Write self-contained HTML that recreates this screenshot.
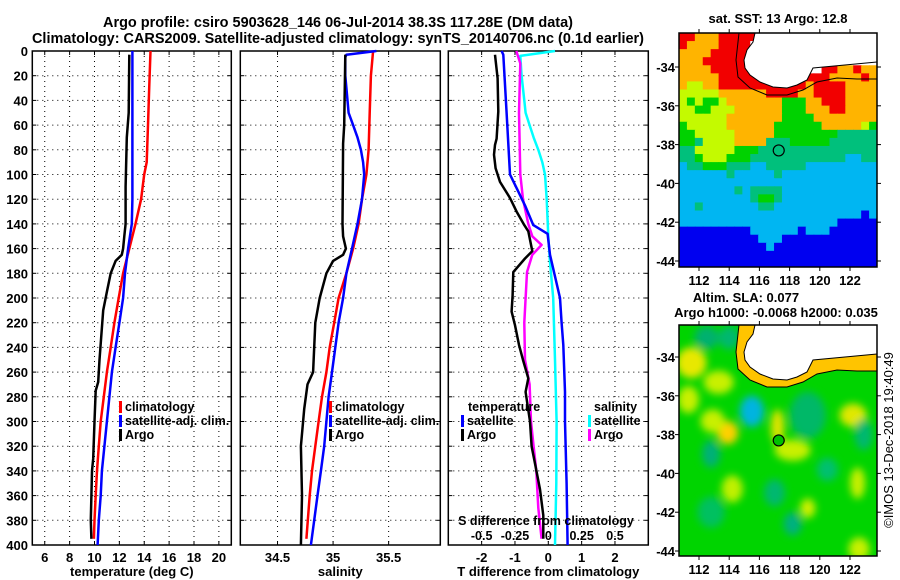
<!DOCTYPE html>
<html><head><meta charset="utf-8"><style>
html,body{margin:0;padding:0;background:#fff;}
svg{display:block;font-family:"Liberation Sans",sans-serif;font-weight:bold;}
</style></head><body>
<svg id="fig" width="900" height="580" viewBox="0 0 900 580" xmlns="http://www.w3.org/2000/svg">
<defs>
<filter id="blur" x="-20%" y="-20%" width="140%" height="140%"><feGaussianBlur stdDeviation="4"/></filter>
<clipPath id="clipTop"><rect x="679" y="33" width="198" height="234"/></clipPath>
<clipPath id="clipBot"><rect x="679" y="325" width="198" height="231"/></clipPath>
</defs>
<text x="338" y="27" text-anchor="middle" font-size="14.5" textLength="470" lengthAdjust="spacingAndGlyphs">Argo profile: csiro 5903628_146 06-Jul-2014 38.3S 117.28E (DM data)</text>
<text x="338" y="43" text-anchor="middle" font-size="14.5" textLength="612" lengthAdjust="spacingAndGlyphs">Climatology: CARS2009. Satellite-adjusted climatology: synTS_20140706.nc (0.1d earlier)</text>
<g id="plots"></g>
<g id="maps"></g>
<text transform="translate(893,440) rotate(-90)" text-anchor="middle" font-size="13" font-weight="normal">©IMOS 13-Dec-2018 19:40:49</text>
</svg>
<script>
// ---------- data ----------
const depthTicks = [0,20,40,60,80,100,120,140,160,180,200,220,240,260,280,300,320,340,360,380,400];
const tempTicks = [6,8,10,12,14,16,18,20];
const salTicks = [34.5,35,35.5];
const salTickLabels = ["34.5","35","35.5"];
const diffTicks = [-2,-1,0,1,2];
const sDiffTicks = [-0.5,-0.25,0,0.25,0.5];
const sDiffTickLabels = ["-0.5","-0.25","0","0.25","0.5"];

const argoTDepth = [3,50,70,110,140,150,160,165,170,180,195,210,250,268,275,300,330,340,380,395];
const argoT      = [12.8,12.75,12.6,12.5,12.5,12.4,12.3,12.2,11.7,11.3,11.0,10.7,10.4,10.3,10.1,10.0,9.9,9.8,9.7,9.75];
const climDepth  = [0,30,60,90,100,120,140,160,180,200,220,240,260,280,300,320,340,360,380,395];
const climT      = [14.5,14.4,14.3,14.2,14.0,13.75,13.3,12.8,12.3,11.95,11.6,11.3,11.0,10.75,10.5,10.35,10.2,10.1,10.0,9.95];
const satDepth   = [0,20,40,60,80,100,120,140,160,180,200,220,240,260,280,300,320,340,360,380,400];
const satT       = [13.05,13.05,13.05,13.05,13.05,13.05,13.05,13.0,12.7,12.45,12.3,12.0,11.7,11.4,11.2,11.0,10.8,10.6,10.5,10.35,10.25];

const argoSDepth = [3,60,75,140,150,160,165,170,180,200,220,260,270,290,320,360,400];
const argoS      = [35.11,35.10,35.09,35.085,35.09,35.115,35.09,35.0,34.94,34.88,34.84,34.82,34.77,34.74,34.71,34.72,34.71];
const climS      = [35.36,35.35,35.34,35.33,35.32,35.3,35.26,35.23,35.18,35.12,35.05,35.01,34.97,34.94,34.9,34.87,34.84,34.81,34.79,34.76];
const climSDepth = [0,10,20,50,80,100,120,140,160,180,200,220,240,260,280,300,320,340,360,395];
const satSDepth  = [0,3,5,20,40,50,60,70,80,90,100,120,140,160,180,200,220,240,260,280,300,320,340,360,380,400];
const satS       = [35.39,35.12,35.11,35.11,35.13,35.14,35.18,35.22,35.25,35.27,35.28,35.26,35.22,35.17,35.12,35.09,35.05,35.02,34.99,34.96,34.94,34.92,34.89,34.86,34.83,34.8];

const dTArgoDepth = [3,22,49,71,76,84,95,106,119,130,141,146,162,168,179,198,211,222,238,251,265,276,300,320,334,355,376,395];
const dTArgo      = [-1.6,-1.52,-1.5,-1.55,-1.6,-1.63,-1.58,-1.45,-1.15,-0.95,-0.72,-0.6,-0.48,-0.7,-1.05,-1.07,-1.1,-1.0,-0.88,-0.75,-0.6,-0.68,-0.55,-0.5,-0.4,-0.25,-0.15,-0.15];
const dTSatDepth  = [0,3,50,100,111,125,141,148,165,200,220,238,276,300,350,400];
const dTSat       = [-1.4,-1.35,-1.25,-1.15,-0.95,-0.7,-0.45,-0.02,0.05,0.35,0.4,0.45,0.5,0.5,0.55,0.58];
const dSArgoDepth = [0,10,50,100,120,140,150,157,165,179,220,250,270,300,320,340,370,395];
const dSArgo      = [-0.24,-0.21,-0.22,-0.21,-0.19,-0.15,-0.12,-0.05,-0.12,-0.16,-0.18,-0.175,-0.14,-0.13,-0.11,-0.09,-0.075,-0.05];
const dSSatDepth  = [0,4,20,40,50,60,70,80,90,100,120,150,170,200,250,300,350,400];
const dSSat       = [0.05,-0.21,-0.2,-0.18,-0.17,-0.14,-0.11,-0.075,-0.045,-0.025,-0.012,0.0,0.012,0.037,0.05,0.062,0.06,0.05];

const lonTicks = [112,114,116,118,120,122];
const latTicks = [-34,-36,-38,-40,-42,-44];
const argoLon = 117.28, argoLat = -38.3;

// ---------- helpers ----------
const NS = "http://www.w3.org/2000/svg";
function mk(tag, attrs, parent){ const e=document.createElementNS(NS,tag); for(const k in attrs) e.setAttribute(k,attrs[k]); parent.appendChild(e); return e; }
const plots = document.getElementById('plots');
const Y0 = 51, Y1 = 545;
function yScale(d){ return Y0 + d*(Y1-Y0)/400; }
function makeX(x0,x1,v0,v1){ return v => x0 + (v-v0)*(x1-x0)/(v1-v0); }

function panel(name, x0, x1, xs, ticks, tickLabels, title, showY){
  const g = mk('g',{},plots);
  
  
  ticks.forEach(t=>{ const x=xs(t); mk('line',{x1:x,x2:x,y1:Y0,y2:Y1,stroke:'#000','stroke-width':1,'stroke-dasharray':'1 4'},g); });
  depthTicks.forEach(d=>{ if(d===0||d===400) return; const y=yScale(d); mk('line',{x1:x0,x2:x1,y1:y,y2:y,stroke:'#000','stroke-width':1,'stroke-dasharray':'1 4'},g);
    mk('line',{x1:x0,x2:x0+4,y1:y,y2:y,stroke:'#000'},g); mk('line',{x1:x1-4,x2:x1,y1:y,y2:y,stroke:'#000'},g); });
  ticks.forEach(t=>{ const x=xs(t); mk('line',{x1:x,x2:x,y1:Y1-4,y2:Y1,stroke:'#000'},g); mk('line',{x1:x,x2:x,y1:Y0,y2:Y0+4,stroke:'#000'},g); });
  mk('rect',{x:x0,y:Y0,width:x1-x0,height:Y1-Y0,fill:'none',stroke:'#000','stroke-width':1.5},g);
  ticks.forEach((t,i)=>{ const tx=mk('text',{x:xs(t),y:562,'text-anchor':'middle','font-size':13},g); tx.textContent=tickLabels?tickLabels[i]:String(t);
      });
  const tt = mk('text',{x:(x0+x1)/2,y:576,'text-anchor':'middle','font-size':13},g); tt.textContent=title;
   
  if(showY){ depthTicks.forEach(d=>{ const tx=mk('text',{x:28,y:yScale(d)+5,'text-anchor':'end','font-size':13},g); tx.textContent=String(d);
      }); }
  return g;
}
function line(g, xs, vals, depths, color, name, w){
  const pts = vals.map((v,i)=>xs(v).toFixed(1)+','+yScale(depths[i]).toFixed(1)).join(' ');
  const p = mk('polyline',{points:pts,fill:'none',stroke:color,'stroke-width':w||2.5,'stroke-linejoin':'round'},g);
  
  
}
function legend(g, x, y, color, label, name){
  mk('rect',{x:x,y:y-10,width:3,height:12,fill:color},g);
  const t = mk('text',{x:x+6,y:y,'font-size':12.5},g); t.textContent = label;
  
  
}

// panel 1 temperature
const xT = makeX(32.3,231.3,5,21);
const g1 = panel('temperature-panel',32.3,231.3,xT,tempTicks,null,'temperature (deg C)',true);
line(g1,xT,climT,climDepth,'#ff0000','clim-temperature-line');
line(g1,xT,satT,satDepth,'#0000ff','satellite-temperature-line');
line(g1,xT,argoT,argoTDepth,'#000000','argo-temperature-line');
legend(g1,119,411,'#ff0000','climatology','legend-climatology');
legend(g1,119,425,'#0000ff','satellite-adj. clim.','legend-satellite-adj');
legend(g1,119,439,'#000000','Argo','legend-argo');

// panel 2 salinity
const xS = makeX(240.3,440.3,34.165,35.965);
const g2 = panel('salinity-panel',240.3,440.3,xS,salTicks,salTickLabels,'salinity',false);
line(g2,xS,climS,climSDepth,'#ff0000','clim-salinity-line');
line(g2,xS,satS,satSDepth,'#0000ff','satellite-salinity-line');
line(g2,xS,argoS,argoSDepth,'#000000','argo-salinity-line');
legend(g2,329,411,'#ff0000','climatology','legend-climatology');
legend(g2,329,425,'#0000ff','satellite-adj. clim.','legend-satellite-adj');
legend(g2,329,439,'#000000','Argo','legend-argo');

// panel 3 differences
const xD = makeX(448.3,648.3,-3,3);
const xSD = makeX(448.3,648.3,-0.75,0.75);
const g3 = panel('difference-panel',448.3,648.3,xD,diffTicks,null,'T difference from climatology',false);
line(g3,xSD,dSSat,dSSatDepth,'#00ffff','satellite-salinity-diff-line');
line(g3,xSD,dSArgo,dSArgoDepth,'#ff00ff','argo-salinity-diff-line');
line(g3,xD,dTSat,dTSatDepth,'#0000ff','satellite-temperature-diff-line');
line(g3,xD,dTArgo,dTArgoDepth,'#000000','argo-temperature-diff-line');
{ const t=mk('text',{x:468,y:411,'font-size':12.5},g3); t.textContent='temperature';
    }
legend(g3,461,425,'#0000ff','satellite','legend-temp-satellite');
legend(g3,461,439,'#000000','Argo','legend-temp-argo');
{ const t=mk('text',{x:594,y:411,'font-size':12.5},g3); t.textContent='salinity';
    }
legend(g3,588,425,'#00ffff','satellite','legend-sal-satellite');
legend(g3,588,439,'#ff00ff','Argo','legend-sal-argo');
{ const t=mk('text',{x:546,y:525,'text-anchor':'middle','font-size':12.5},g3); t.textContent='S difference from climatology';
    }
sDiffTicks.forEach((s,i)=>{ const t=mk('text',{x:xSD(s),y:540,'text-anchor':'middle','font-size':12.5},g3); t.textContent=sDiffTickLabels[i];
    });

// ---------- maps ----------
const maps = document.getElementById('maps');
const MX0=679, MX1=877;
const lonX = makeX(699,850,112,122);
const sstCols = {R:'#f20000',O:'#ffb400',Y:'#c4fa00',G:'#00d200',T:'#00c07c',C:'#00b6f2',B:'#0000f0',W:'#ffffff'};
const sstGrid = [
"RROOORRRRRWWWWWWWWWWWWWWW",
"ROOOORRRRWWWWWWWWWWWWWWWW",
"OOOORRRRRWWWWWWWWWWWWWWWW",
"OOORRRRRRWWWWWWWWWWWWWWWW",
"OOOORRRRRRWWWWWWWWRROOROO",
"OOOOORRRRRRWWWWWRRROOOORO",
"OYYOORRRRRRRRRRRORRRROOOO",
"YYYYYOOOOOORRRROORRRROOOO",
"YGYGGYOOOOOOOGGGOORRROOOO",
"YYGGYYYOOOOOOGGGOOORROOOO",
"YYYYYYOOOOOOOGGGGOOOOOOOO",
"GYYYYYOOOOOOGGGGGGOOOOOYG",
"GGYYYYYOOOOOGGGGGGGGTTTTT",
"GGTYYYYOOOOTTTGGGGGTTTTTT",
"TTYYYYYGGGTTTTTTTTTTTTTTT",
"TTGYYYGGGTTTTTTTTTTTTCCTT",
"CTTGGGTTTCCTTTTTCCCCCCCCC",
"CCCCCCTCCCCCTCCCCCCCCCCCC",
"CCCCCCCCCCCCCCCCCCCCCCCCC",
"CCCCCCCTCTTTTCCCCCCCCCCCC",
"CCCCCCCCCTGGTCCCCCCCCCCCC",
"CCTCCCCCCCTTCCCCCCCCCCCCC",
"CCCCCCCCCCCCCCCCCCCCCCCBC",
"CCCCCCCCCCCCCCCCCCCCBBBBB",
"BBBBBBBBBCCCCCCBCCCBBBBBB",
"BBBBBBBBBBCCCBBBBBBBBBBBB",
"BBBBBBBBBBBCBBBBBBBBBBBBB",
"BBBBBBBBBBBBBBBBBBBBBBBBB",
"BBBBBBBBBBBBBBBBBBBBBBBBB"];
const landPts = [[76,0],[198,0],[198,29],[134,35],[128,47],[118,52],[108,55],[94,54],[81,49],[71,42],[66,35],[65,27],[68,17],[74,9]];
const contourPts = [[60,0],[57,27],[59,44],[71,55],[88,62],[108,62],[124,57],[138,49],[158,45],[178,46],[198,46]];

function mapFrame(name){
  const g = mk('g',{},maps);
  
  
  return g;
}
function mapAxes(g, top, h, lat34Y, lonLabelY){
  const latY = lat => lat34Y + (-34 - lat)*19.4;
  mk('rect',{x:MX0,y:top,width:MX1-MX0,height:h,fill:'none',stroke:'#000','stroke-width':1.5},g);
  latTicks.forEach(l=>{ const y=latY(l); mk('line',{x1:MX0-4,x2:MX0,y1:y,y2:y,stroke:'#000'},g); mk('line',{x1:MX1,x2:MX1+4,y1:y,y2:y,stroke:'#000'},g);
    const t=mk('text',{x:675,y:y+5,'text-anchor':'end','font-size':13},g); t.textContent=String(l);
      });
  lonTicks.forEach(l=>{ const x=lonX(l); mk('line',{x1:x,x2:x,y1:top+h,y2:top+h+4,stroke:'#000'},g); mk('line',{x1:x,x2:x,y1:top-4,y2:top,stroke:'#000'},g);
    const t=mk('text',{x:x,y:lonLabelY,'text-anchor':'middle','font-size':13},g); t.textContent=String(l);
      });
  return latY;
}
// top SST map
{
  const top=33, h=234;
  const g = mapFrame('sst-map');
  const cg = mk('g',{'clip-path':'url(#clipTop)'},g);
  const cw=(MX1-MX0)/25, ch=h/29;
  sstGrid.forEach((row,r)=>{ for(let c=0;c<row.length;c++){ mk('rect',{x:MX0+c*cw,y:top+r*ch,width:cw+0.6,height:ch+0.6,fill:sstCols[row[c]]},cg);} });
  mk('polygon',{points:landPts.map(p=>(MX0+p[0])+','+(top+p[1])).join(' '),fill:'#fff',stroke:'#000','stroke-width':1},cg);
  mk('polyline',{points:contourPts.map(p=>(MX0+p[0])+','+(top+p[1])).join(' '),fill:'none',stroke:'#000','stroke-width':1},cg);
  const latY = mapAxes(g, top, h, 67, 285);
  const m = mk('circle',{cx:lonX(argoLon),cy:latY(argoLat),r:5.5,fill:'none',stroke:'#000','stroke-width':1.2},g);
   
  const t=mk('text',{x:778,y:23,'text-anchor':'middle','font-size':13},g); t.textContent='sat. SST: 13 Argo: 12.8';
   
}
// bottom SLA map
const slaBlobs = [ // [lon, lat, rx(deg), ry(deg), color]
 [112.5,-33.0,0.8,0.6,'#00b070'],[114.0,-33.0,0.7,0.6,'#00b870'],
 [111.5,-34.3,1.0,0.8,'#e8e800'],[113.3,-35.3,1.0,0.6,'#c8f000'],[111.3,-36.2,0.7,0.7,'#c8f000'],
 [115.5,-36.8,0.8,0.8,'#00b4e0'],[113.9,-37.9,0.7,0.6,'#ffd000'],[112.9,-37.3,0.8,0.6,'#c8f000'],
 [117.2,-37.6,0.45,0.9,'#e0e400'],[118.2,-38.8,1.2,0.55,'#c8f000'],
 [119.2,-37.0,1.2,1.2,'#00b868'],[122.2,-37.0,0.9,0.6,'#e0e800'],[122.9,-38.0,0.6,0.8,'#00b870'],
 [112.8,-39.0,0.6,0.7,'#00b078'],[114.2,-40.8,0.7,0.7,'#c0f000'],[117.0,-41.0,0.7,0.7,'#00b870'],
 [118.2,-42.6,0.6,0.6,'#00b080'],[119.2,-41.8,0.5,0.5,'#d0f000'],[122.5,-40.5,0.5,0.8,'#c8f000'],
 [122.6,-43.9,0.7,0.6,'#c8f000'],[112.8,-42,0.9,0.8,'#00c060'],[120.5,-39.8,0.7,0.6,'#00c070']];
{
  const top=325, h=231;
  const g = mapFrame('sla-map');
  const cg = mk('g',{'clip-path':'url(#clipBot)'},g);
  mk('rect',{x:MX0,y:top,width:MX1-MX0,height:h,fill:'#00d400'},cg);
  const latY0 = lat => 357 + (-34 - lat)*19.4;
  const bg = mk('g',{filter:'url(#blur)'},cg);
  slaBlobs.forEach(b=>{ const e=mk('ellipse',{cx:lonX(b[0]),cy:latY0(b[1]),rx:b[2]*15.1,ry:b[3]*19.4,fill:b[4]},bg);
      });
  const band = contourPts.map(p=>(MX0+p[0])+','+(top+p[1])).concat([(MX1)+','+top,(MX0+60)+','+top]).join(' ');
  mk('polygon',{points:band,fill:'#ffc400'},cg);
  mk('polygon',{points:landPts.map(p=>(MX0+p[0])+','+(top+p[1])).join(' '),fill:'#fff',stroke:'#000','stroke-width':1},cg);
  mk('polyline',{points:contourPts.map(p=>(MX0+p[0])+','+(top+p[1])).join(' '),fill:'none',stroke:'#000','stroke-width':1},cg);
  const latY = mapAxes(g, top, h, 357, 574);
  const m = mk('circle',{cx:lonX(argoLon),cy:latY(argoLat),r:5.5,fill:'#00c000',stroke:'#000','stroke-width':1.2},g);
   
  const t1=mk('text',{x:746,y:302,'text-anchor':'middle','font-size':13},g); t1.textContent='Altim. SLA: 0.077';
   
  const t2=mk('text',{x:776,y:317,'text-anchor':'middle','font-size':13},g); t2.textContent='Argo h1000: -0.0068 h2000: 0.035';
   
}
</script>
</body></html>
